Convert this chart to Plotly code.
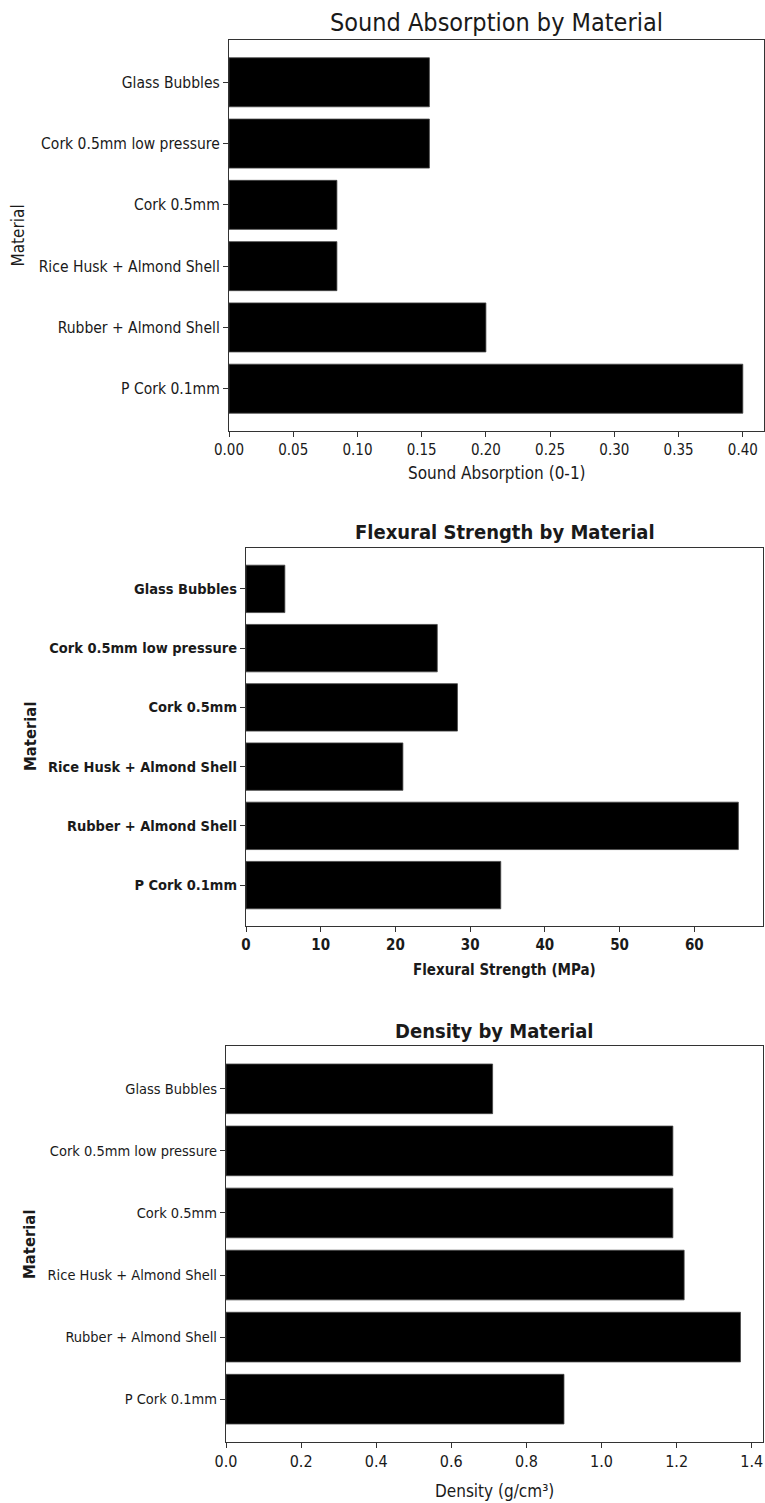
import plotly.graph_objects as go

W, H = 765, 1503

materials = [
    "Glass Bubbles",
    "Cork 0.5mm low pressure",
    "Cork 0.5mm",
    "Rice Husk + Almond Shell",
    "Rubber + Almond Shell",
    "P Cork 0.1mm",
]

sound_absorption = [0.156, 0.156, 0.084, 0.084, 0.20, 0.40]
flexural_strength = [5.2, 25.6, 28.3, 21.0, 65.9, 34.1]
density = [0.71, 1.19, 1.19, 1.22, 1.37, 0.90]

sound_ticks = [0.00, 0.05, 0.10, 0.15, 0.20, 0.25, 0.30, 0.35, 0.40]
flex_ticks = [0, 10, 20, 30, 40, 50, 60]
density_ticks = [0.0, 0.2, 0.4, 0.6, 0.8, 1.0, 1.2, 1.4]

FONT = "DejaVu Sans Condensed, Liberation Sans Narrow, Roboto, sans-serif"
INK = "#1a1a1a"


def fx(px):
    return px / W


def fy(py):
    return 1 - py / H


# panel boxes in pixels: (left, right, top, bottom)
panels = [
    dict(box=(229, 764, 40, 431), values=sound_absorption, ticks=sound_ticks,
         fmt="{:.2f}", xmax=0.4165, title="Sound Absorption by Material",
         xlabel="Sound Absorption (0-1)", tsize=25, tbold=False, lsize=15.5, ksize=15,
         xsize=17, bold=False, ylab_x=17, ylab_size=17, title_y=23, xlabel_y=473),
    dict(box=(246, 763, 548, 926), values=flexural_strength, ticks=flex_ticks,
         fmt="{:d}", xmax=69.2, title="Flexural Strength by Material",
         xlabel="Flexural Strength (MPa)", tsize=20, tbold=True, lsize=14.5, ksize=15,
         xsize=15, bold=True, ylab_x=30, ylab_size=16.5, title_y=532, xlabel_y=970),
    dict(box=(226, 763, 1046, 1442), values=density, ticks=density_ticks,
         fmt="{:.1f}", xmax=1.43, title="Density by Material",
         xlabel="Density (g/cm³)", tsize=20, tbold=True, lsize=14.5, ksize=16,
         xsize=17, bold=False, ylab_x=29, ylab_size=16.5, title_y=1031, xlabel_y=1491),
]

fig = go.Figure()
annotations = []

for i, p in enumerate(panels, start=1):
    left, right, top, bottom = p["box"]
    sfx = "" if i == 1 else str(i)
    xa, ya = "x" + sfx, "y" + sfx
    fig.add_trace(go.Bar(
        x=p["values"], y=materials, orientation="h", width=0.8,
        marker=dict(color="#000000", line=dict(color="#444444", width=0.8)),
        xaxis=xa, yaxis=ya, showlegend=False,
    ))
    weight = "bold" if p["bold"] else "normal"
    axis_common = dict(
        showline=True, linecolor="#333333", linewidth=1.2, mirror=True,
        showgrid=False, zeroline=False, ticks="outside", ticklen=5,
        tickcolor="#333333", tickwidth=1, automargin=False,
    )
    fig.layout["xaxis" + sfx] = dict(
        domain=[fx(left), fx(right)], anchor=ya, range=[0, p["xmax"]],
        tickmode="array", tickvals=p["ticks"],
        ticktext=[p["fmt"].format(t) for t in p["ticks"]],
        tickfont=dict(family=FONT, size=p["ksize"], color=INK, weight=weight),
        **axis_common,
    )
    fig.layout["yaxis" + sfx] = dict(
        domain=[fy(bottom), fy(top)], anchor=xa,
        categoryorder="array", categoryarray=materials,
        range=[len(materials) - 0.31, -0.69],
        tickfont=dict(family=FONT, size=p["lsize"], color=INK, weight=weight),
        **axis_common,
    )
    annotations.append(dict(
        text=p["title"], x=fx((left + right) / 2), y=fy(p["title_y"]),
        xref="paper", yref="paper", showarrow=False, xanchor="center", yanchor="middle",
        font=dict(family=FONT, size=p["tsize"], color=INK,
                  weight="bold" if p["tbold"] else "normal"),
    ))
    annotations.append(dict(
        text=p["xlabel"], x=fx((left + right) / 2), y=fy(p["xlabel_y"]),
        xref="paper", yref="paper", showarrow=False, xanchor="center", yanchor="middle",
        font=dict(family=FONT, size=p["xsize"], color=INK, weight=weight),
    ))
    annotations.append(dict(
        text="Material", x=fx(p["ylab_x"]), y=fy((top + bottom) / 2),
        xref="paper", yref="paper", showarrow=False, xanchor="center", yanchor="middle",
        textangle=-90,
        font=dict(family=FONT, size=p["ylab_size"], color=INK,
                  weight="bold" if i > 1 else "normal"),
    ))

fig.update_layout(
    width=W, height=H, margin=dict(l=0, r=0, t=0, b=0),
    paper_bgcolor="#ffffff", plot_bgcolor="#ffffff",
    annotations=annotations, bargap=0.2,
)

fig.write_html("out.html")
